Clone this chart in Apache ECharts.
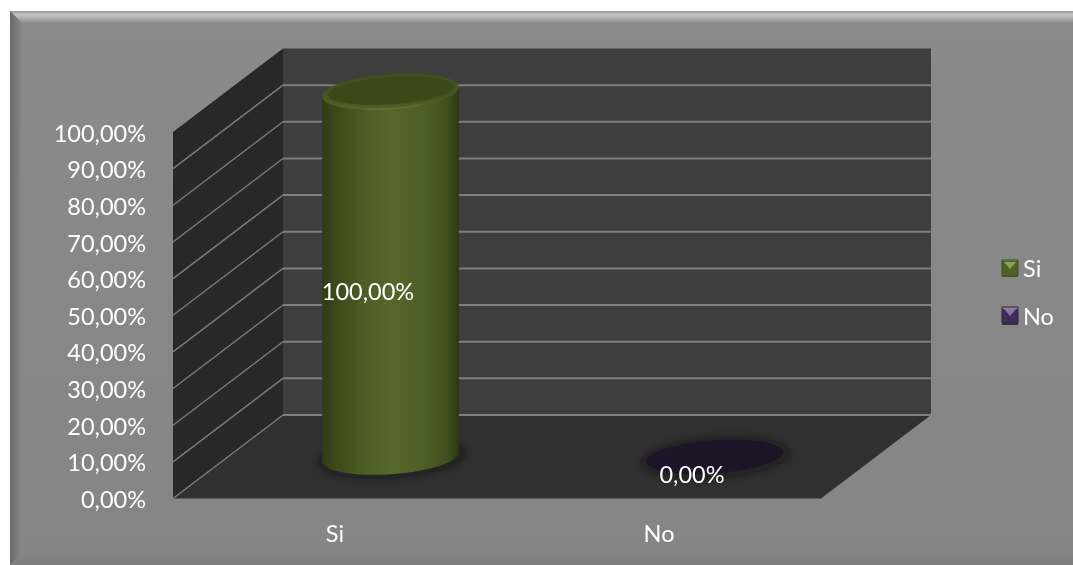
<!DOCTYPE html>
<html>
<head>
<meta charset="utf-8">
<style>html,body{margin:0;padding:0;background:#fff}#c{width:1073px;height:565px}</style>
<script src="https://cdn.jsdelivr.net/npm/echarts@6/dist/echarts.min.js"></script>
</head>
<body>
<div id="c"></div>
<script>
const categories = ['Si', 'No'];
const valuesSi = [100, null];
const valuesNo = [null, 0];
const ticks = [0, 10, 20, 30, 40, 50, 60, 70, 80, 90, 100];

const FONT = 'Lato';
const FS = 23.5;
const DEPTH_X = 110, DEPTH_Y = -83.5;
const RX = 68.5, RY = 17.5, TILT = -4 * Math.PI / 180;
const fmt = v => v.toFixed(2).replace('.', ',') + '%';

function wallsRender(params, api) {
  const c = params.coordSys, v = api.value(0);
  const y0 = api.coord([0, 0])[1], y100 = api.coord([0, 100])[1];
  const yv = api.coord([0, v])[1];
  const L = c.x, R = c.x + c.width, dx = DEPTH_X, dy = DEPTH_Y;
  const children = [];
  if (params.dataIndex === 0) {
    children.push({type:'polygon',shape:{points:[[L+dx,y100+dy],[R+dx,y100+dy],[R+dx,y0+dy],[L+dx,y0+dy]]},style:{fill:'#3e3e3e'}});
    children.push({type:'polygon',shape:{points:[[L,y100],[L+dx,y100+dy],[L+dx,y0+dy],[L,y0]]},style:{fill:'#282828'}});
    children.push({type:'polygon',shape:{points:[[L,y0],[L+dx,y0+dy],[R+dx,y0+dy],[R,y0]]},style:{fill:'#303030'}});
  }
  if (v < 100) {
    children.push({type:'line',shape:{x1:L,y1:yv,x2:L+dx,y2:yv+dy},style:{stroke:'#7c7c7c',lineWidth:1.4}});
    children.push({type:'line',shape:{x1:L+dx,y1:yv+dy,x2:R+dx,y2:yv+dy},style:{stroke:'#7f7f7f',lineWidth:2}});
  }
  return {type:'group',children};
}

function ellipsePts(cx, cy, rx, ry, t0, t1, n) {
  const pts = [];
  for (let i = 0; i <= n; i++) {
    const t = t0 + (t1 - t0) * i / n;
    pts.push([cx + rx*Math.cos(t)*Math.cos(TILT) - ry*Math.sin(t)*Math.sin(TILT),
              cy + rx*Math.cos(t)*Math.sin(TILT) + ry*Math.sin(t)*Math.cos(TILT)]);
  }
  return pts;
}

function cylinderRender(pal) {
  return function (params, api) {
    const i = api.value(0), v = api.value(1);
    const base = api.coord([i, 0]), top = api.coord([i, v]), mid = api.coord([i, v / 2]);
    const cx = base[0] + DEPTH_X / 2 + 0.5, by = base[1] + DEPTH_Y / 2, ty = top[1] + DEPTH_Y / 2 + 1.5;
    const t0 = Math.atan(-RY / RX * Math.tan(TILT));
    const children = [];
    const ell = (x, y, rx, ry, style) => ({type:'polygon',shape:{points:ellipsePts(x,y,rx,ry,0,Math.PI*2,72)},style});
    children.push(ell(cx + 1, by + 1, RX + 6, RY + 3, {fill:'#242424',shadowColor:'#1c1c1c',shadowBlur:10}));
    if (v > 0) {
      const front = ellipsePts(cx, by, RX, RY, t0, t0 + Math.PI, 48);
      const pts = [[front[front.length-1][0], ty + (front[front.length-1][1] - by)], [front[0][0], ty + (front[0][1] - by)]].concat(front);
      children.push({type:'polygon',shape:{points:pts},style:{fill:{type:'linear',x:0,y:0,x2:1,y2:0,colorStops:pal.side}}});
      children.push(ell(cx, ty, RX, RY, {fill:{type:'linear',x:0,y:0,x2:0,y2:1,colorStops:pal.rim}}));
      children.push({type:'polyline',shape:{points:ellipsePts(cx, ty, RX - 1, RY - 0.5, 1.15, 1.95, 16)},style:{stroke:pal.glow,lineWidth:1,fill:null,opacity:.8,shadowColor:pal.glow,shadowBlur:3}});
      children.push(ell(cx, ty - 1, RX - 6, RY - 4, {fill:pal.top,shadowColor:pal.top,shadowBlur:8}));
    } else {
      children.push(ell(cx, by, RX, RY - 1, {fill:pal.top}));
    }
    children.push({type:'text',z2:50,style:{text:fmt(v),x:base[0] + 33,y:mid[1] - 23,align:'center',verticalAlign:'middle',fill:'#fff',font:FS + 'px ' + FONT}});
    return {type:'group',children};
  };
}

const palSi = {
  side:[{offset:0,color:'#2f3c15'},{offset:.08,color:'#394719'},{offset:.3,color:'#4c5d25'},{offset:.5,color:'#55672b'},{offset:.75,color:'#4d5f27'},{offset:.92,color:'#3f4e1c'},{offset:1,color:'#2d3913'}],
  rim:[{offset:0,color:'#435320'},{offset:.55,color:'#45561f'},{offset:1,color:'#5a6e2e'}], top:'#3b491a', glow:'#6b8038'
};
const palNo = {side:[{offset:0,color:'#1e1427'},{offset:1,color:'#1e1427'}],rim:[{offset:0,color:'#1e1427'},{offset:1,color:'#1e1427'}],top:'#1e1427',glow:'#1e1427'};

const toData = arr => arr.map((v, i) => [i, v]).filter(d => d[1] !== null);
const vGrad = (a, b) => ({type:'linear',x:0,y:0,x2:0,y2:1,colorStops:[{offset:0,color:a},{offset:1,color:b}]});
const hGrad = (a, b) => ({type:'linear',x:0,y:0,x2:1,y2:0,colorStops:[{offset:0,color:a},{offset:1,color:b}]});

const W = 1073, H = 565, FX = 10, FY = 11, B = 12;
const frame = [
  {type:'rect',z:-2,shape:{x:FX,y:FY,width:W-FX,height:H-FY},style:{fill:vGrad('#8a8a8a','#858585')}},
  {type:'polygon',z:-1,shape:{points:[[FX,FY],[W,FY],[W,FY+B],[FX+B,FY+B]]},style:{fill:{type:'linear',x:0,y:0,x2:0,y2:1,colorStops:[{offset:0,color:'#9a9a9a'},{offset:.12,color:'#a8a8a8'},{offset:.3,color:'#c6c6c6'},{offset:1,color:'#8b8b8b'}]}}},
  {type:'polygon',z:-1,shape:{points:[[FX,FY],[FX+B,FY+B],[FX+B,H-B],[FX,H]]},style:{fill:hGrad('#6a6a6a','#888888')}},
  {type:'polygon',z:-1,shape:{points:[[FX,H],[FX+B,H-B],[W,H-B],[W,H]]},style:{fill:vGrad('#868686','#7c7c7c')}}
];

// bevel of the two legend swatches
const bevel = (x, y, s, light, dark) => [
  {type:'polygon',z:100,shape:{points:[[x+2,y+2],[x+s-2,y+2],[x+s/2,y+s/2+1]]},style:{fill:light}},
  {type:'polygon',z:100,shape:{points:[[x,y],[x+s,y],[x+s,y+s],[x,y+s]]},style:{fill:null,stroke:dark,lineWidth:1}}
];
const LEG_X = 1002, LEG_SI = 260, LEG_NO = 307, LEG_S = 16;

const chart = echarts.init(document.getElementById('c'), null, {renderer:'canvas'});
chart.setOption({
  animation:false,
  backgroundColor:'#ffffff',
  textStyle:{fontFamily:FONT},
  graphic:{elements:frame.concat(bevel(LEG_X,LEG_SI,LEG_S,'#8da158','#3f4f1e'),bevel(LEG_X,LEG_NO,LEG_S,'#8a72a8','#2e2342'))},
  grid:{left:173,right:252,top:132,bottom:66.5,containLabel:false},
  legend:{
    orient:'vertical',left:LEG_X,top:LEG_SI - 3,itemWidth:LEG_S,itemHeight:LEG_S,itemGap:24,
    icon:'rect',data:['Si','No'],selectedMode:false,padding:0,
    textStyle:{color:'#fff',fontSize:FS,fontFamily:FONT,lineHeight:16,padding:[-7,0,0,0]}
  },
  xAxis:{type:'category',data:categories,axisLine:{show:false},axisTick:{show:false},
    axisLabel:{color:'#fff',fontSize:FS,fontFamily:FONT,margin:24}},
  yAxis:{type:'value',min:0,max:100,interval:10,splitLine:{show:false},axisLine:{show:false},axisTick:{show:false},
    axisLabel:{color:'#fff',fontSize:FS,fontFamily:FONT,margin:27,verticalAlign:'top',lineHeight:4,formatter:fmt}},
  series:[
    {type:'custom',silent:true,z:1,renderItem:wallsRender,data:ticks.map(t=>[t]),encode:{y:0},clip:false},
    {type:'custom',name:'Si',silent:true,z:3,renderItem:cylinderRender(palSi),itemStyle:{color:'#4f6127'},data:toData(valuesSi),encode:{x:0,y:1},clip:false},
    {type:'custom',name:'No',silent:true,z:3,renderItem:cylinderRender(palNo),itemStyle:{color:'#3d2d58'},data:toData(valuesNo),encode:{x:0,y:1},clip:false}
  ]
});
</script>
</body>
</html>
